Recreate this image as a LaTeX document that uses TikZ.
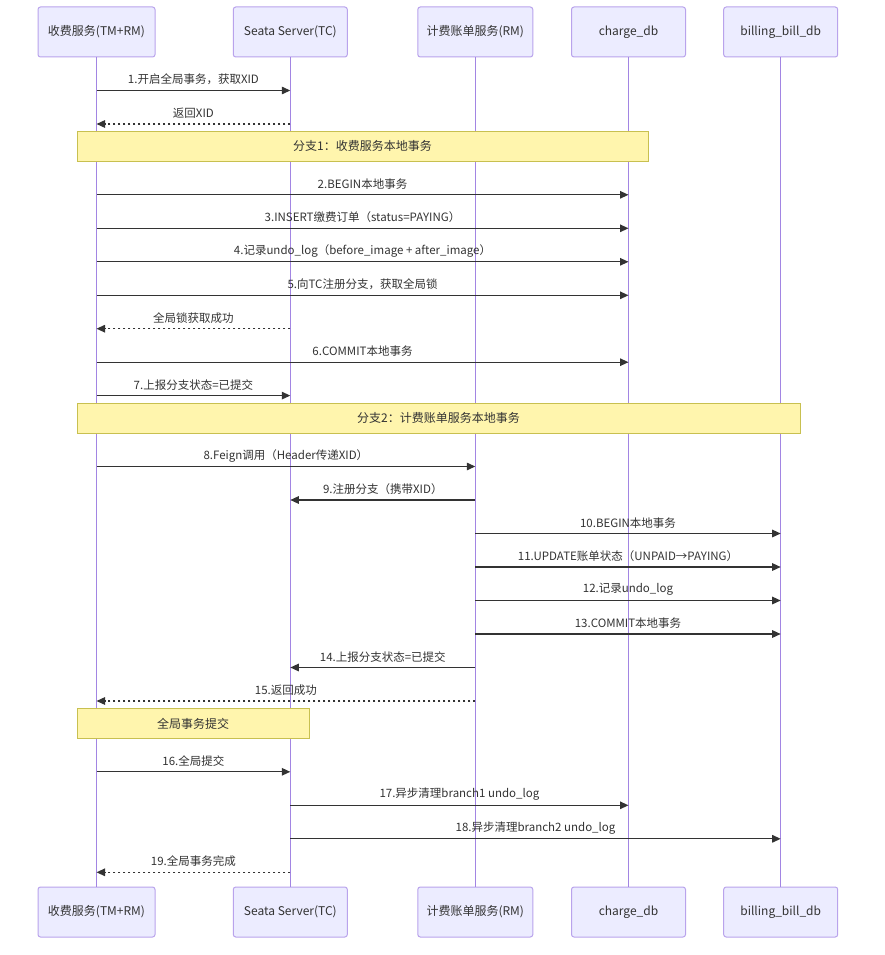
\documentclass[tikz,border=0pt]{standalone}
\usepackage{fontspec}
\setmainfont{Noto Sans CJK SC}
\usetikzlibrary{arrows.meta}
\definecolor{actfill}{HTML}{ECECFF}
\definecolor{actborder}{HTML}{B9A3EC}
\definecolor{lifecol}{HTML}{A285E3}
\definecolor{notefill}{HTML}{FFF5AD}
\definecolor{noteborder}{HTML}{C8C050}
\definecolor{ink}{HTML}{333333}
\tikzset{
  actor/.style={draw=actborder, fill=actfill, line width=1pt, rounded corners=2.5pt,
    minimum height=50pt, inner sep=0pt, text=ink, font=\fontsize{12}{14}\selectfont},
  life/.style={draw=lifecol, line width=1.3pt},
  msgline/.style={draw=ink, line width=1.3pt, -{Triangle[length=8.5pt,width=7.5pt]}},
  msgdash/.style={msgline, dash pattern=on 2.6pt off 2.4pt},
  lbl/.style={text=ink, inner sep=0pt, font=\fontsize{11.5}{13}\selectfont},
  notebox/.style={draw=noteborder, fill=notefill, line width=0.9pt, inner sep=0pt,
    text=ink, font=\fontsize{12}{14}\selectfont}
}
\newcommand{\seqmsg}[5]{%
  \draw[#1] (#2 |- 0,#4) -- (#3 |- 0,#4)
    node[lbl, midway, yshift=10.8pt] {#5};}
\begin{document}
\begin{tikzpicture}[x=1pt, y=-1pt]
\useasboundingbox[fill=white] (0,0) rectangle (884,955);
% top actors
\node[actor, minimum width=117pt] (A) at (96.5,32) {收费服务(TM+RM)};
\node[actor, minimum width=114pt] (B) at (290.3,32) {Seata Server(TC)};
\node[actor, minimum width=115pt] (C) at (475.3,32) {计费账单服务(RM)};
\node[actor, minimum width=114pt] (D) at (628.5,32) {charge\_db};
\node[actor, minimum width=114pt] (E) at (780.7,32) {billing\_bill\_db};
% bottom actors
\node[actor, minimum width=117pt] (Ab) at (96.5,912) {收费服务(TM+RM)};
\node[actor, minimum width=114pt] (Bb) at (290.3,912) {Seata Server(TC)};
\node[actor, minimum width=115pt] (Cb) at (475.3,912) {计费账单服务(RM)};
\node[actor, minimum width=114pt] (Db) at (628.5,912) {charge\_db};
\node[actor, minimum width=114pt] (Eb) at (780.7,912) {billing\_bill\_db};
% lifelines
\draw[life] (A.south) -- (Ab.north);
\draw[life] (B.south) -- (Bb.north);
\draw[life] (C.south) -- (Cb.north);
\draw[life] (D.south) -- (Db.north);
\draw[life] (E.south) -- (Eb.north);
% messages
\seqmsg{msgline}{A}{B}{90.5}{1.开启全局事务，获取XID}
\seqmsg{msgdash}{B}{A}{124}{返回XID}
\node[notebox, minimum width=571pt, minimum height=30pt] (n1) at (362.5,146.3) {分支1：收费服务本地事务};
\seqmsg{msgline}{A}{D}{194.8}{2.BEGIN本地事务}
\seqmsg{msgline}{A}{D}{228.3}{3.INSERT缴费订单（status=PAYING）}
\seqmsg{msgline}{A}{D}{261.8}{4.记录undo\_log（before\_image + after\_image）}
\seqmsg{msgline}{A}{D}{295.3}{5.向TC注册分支，获取全局锁}
\seqmsg{msgdash}{B}{A}{328.7}{全局锁获取成功}
\seqmsg{msgline}{A}{D}{362.2}{6.COMMIT本地事务}
\seqmsg{msgline}{A}{B}{395.6}{7.上报分支状态=已提交}
\node[notebox, minimum width=723pt, minimum height=30pt] (n2) at (438.5,418.3) {分支2：计费账单服务本地事务};
\seqmsg{msgline}{A}{C}{466.5}{8.Feign调用（Header传递XID）}
\seqmsg{msgline}{C}{B}{500}{9.注册分支（携带XID）}
\seqmsg{msgline}{C}{E}{533.5}{10.BEGIN本地事务}
\seqmsg{msgline}{C}{E}{567}{11.UPDATE账单状态（UNPAID→PAYING）}
\seqmsg{msgline}{C}{E}{600.5}{12.记录undo\_log}
\seqmsg{msgline}{C}{E}{634}{13.COMMIT本地事务}
\seqmsg{msgline}{C}{B}{667.5}{14.上报分支状态=已提交}
\seqmsg{msgdash}{C}{A}{701}{15.返回成功}
\node[notebox, minimum width=232pt, minimum height=30pt] (n3) at (193,723.8) {全局事务提交};
\seqmsg{msgline}{A}{B}{771.8}{16.全局提交}
\seqmsg{msgline}{B}{D}{805.3}{17.异步清理branch1 undo\_log}
\seqmsg{msgline}{B}{E}{838.8}{18.异步清理branch2 undo\_log}
\seqmsg{msgdash}{B}{A}{872.3}{19.全局事务完成}
\end{tikzpicture}
\end{document}
